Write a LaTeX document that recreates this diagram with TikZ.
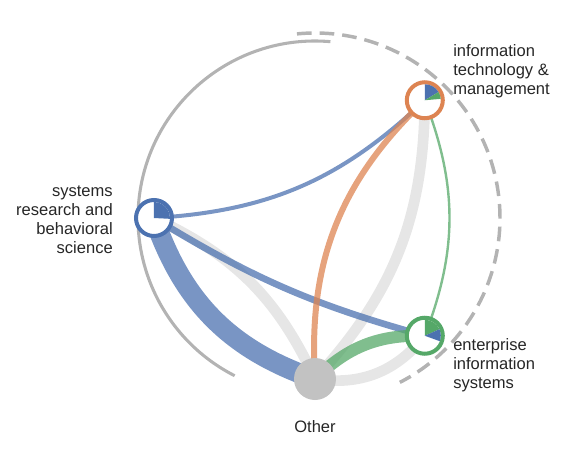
\documentclass[tikz,border=0pt]{standalone}
\usepackage{fontspec}
\setmainfont{Liberation Sans}
\usepackage{tikz}
\usetikzlibrary{backgrounds}
\definecolor{srbsBlue}{HTML}{4C72B0}
\definecolor{itmOrange}{HTML}{DD8452}
\definecolor{eisGreen}{HTML}{55A868}
\definecolor{otherGrey}{HTML}{C2C2C2}
\definecolor{flowGrey}{HTML}{E6E6E6}
\definecolor{hullGrey}{HTML}{B3B3B3}
\definecolor{labelInk}{HTML}{262626}
\tikzset{
  ringnode/.style={circle, draw=#1, fill=white, line width=3pt, minimum size=27pt, inner sep=0pt},
  othernode/.style={circle, fill=otherGrey, minimum size=31.5pt, inner sep=0pt},
  chord/.style 2 args={draw=#1, opacity=0.75, line width=#2},
  greychord/.style={draw=flowGrey, line width=#1},
  hullarc/.style={draw=hullGrey, line width=2.3pt},
  hulldash/.style={draw=hullGrey, line width=2.6pt, dash pattern=on 11pt off 6pt},
  catlabel/.style={font=\fontsize{12.4pt}{14.25pt}\selectfont, text=labelInk, inner sep=0pt},
}

\begin{document}
\begin{tikzpicture}[x=0.75pt,y=0.75pt]
  \useasboundingbox (-315,-232) rectangle (259,218);

  % ---------- journals ----------
  \node[ringnode=srbsBlue]  (srbs)  at (180:161) {};
  \node[ringnode=itmOrange] (itm)   at (47:161)  {};
  \node[ringnode=eisGreen]  (eis)   at (-47:161) {};
  \node[othernode]          (other) at (-90:161) {};

  % ---------- pies ----------
  \fill[srbsBlue] (srbs.center) -- ++(90:16) arc[start angle=90, end angle=-3, radius=16] -- cycle;
  \fill[srbsBlue] (itm.center) -- ++(90:16) arc[start angle=90, end angle=31, radius=16] -- cycle;
  \fill[eisGreen] (itm.center) -- ++(31:16) arc[start angle=31, end angle=5, radius=16] -- cycle;
  \fill[eisGreen] (eis.center) -- ++(90:16) arc[start angle=90, end angle=24, radius=16] -- cycle;
  \fill[srbsBlue] (eis.center) -- ++(24:16) arc[start angle=24, end angle=-20, radius=16] -- cycle;

  % ---------- labels ----------
  \node[catlabel, anchor=west, align=left]  (itmlab)   at (138,147)  {information\\technology \&\\management};
  \node[catlabel, anchor=east, align=right] (srbslab)  at (-202,-2)  {systems\\research and\\behavioral\\science};
  \node[catlabel, anchor=west, align=left]  (eislab)   at (138,-147) {enterprise\\information\\systems};
  \node[catlabel]                           (otherlab) at (0,-209)   {Other};

  \begin{pgfonlayer}{background}
    % ---------- hull arcs ----------
    \draw[hullarc]  (85:177) arc[start angle=85, end angle=243, radius=177];
    \draw[hulldash] (95.6:185) arc[start angle=95.6, end angle=-62.7, radius=185];

    % ---------- grey flows ----------
    \draw[greychord=8pt] (other.center) to[bend right=20] (srbs.center);
    \draw[greychord=8pt] (other.center) to[bend right=21] (itm.center);
    \draw[greychord=8pt] (other.center) to[bend right=30] (eis.center);

    % ---------- coloured flows ----------
    \draw[chord={srbsBlue}{15pt}] (srbs.center) to[bend right=26] (other.center);
    \draw[chord={srbsBlue}{3pt}]  (srbs.center) to[bend right=20] (itm.center);
    \draw[chord={srbsBlue}{5pt}]  (srbs.center) to[bend right=8]  (eis.center);
    \draw[chord={itmOrange}{4.5pt}] (itm.center) to[bend right=25] (other.center);
    \draw[chord={eisGreen}{1.8pt}]  (eis.center) to[bend right=21] (itm.center);
    \draw[chord={eisGreen}{9pt}]    (eis.center) to[bend right=23] (other.center);
  \end{pgfonlayer}
\end{tikzpicture}
\end{document}
